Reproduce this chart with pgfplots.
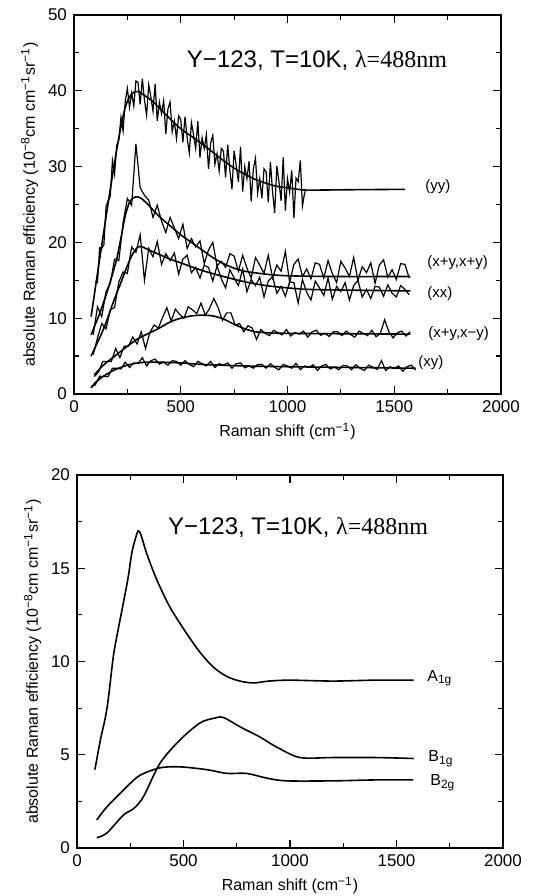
\documentclass[border=0pt]{standalone}
\usepackage{pgfplots}
\pgfplotsset{compat=1.18}
\usepackage{fontspec}
\setmainfont{Liberation Sans}
\newfontfamily\seriffont{Liberation Serif}
\pgfplotsset{myax/.style={
  scale only axis,
  xmin=0,xmax=2000,
  xtick={0,500,1000,1500,2000},
  minor x tick num=1,
  minor y tick num=1,
  tick align=inside,
  major tick length=4pt, minor tick length=2.5pt,
  axis line style={line width=0.8pt},
  every tick/.style={line width=0.6pt, black},
  tick label style={font=\fontsize{8.5}{10}\selectfont},
  label style={font=\fontsize{8}{10}\selectfont},
  /pgf/number format/assume math mode=true,
  /pgf/number format/1000 sep={},
  scaled ticks=false,
  xlabel={Raman shift (cm\textsuperscript{−1})},
  ylabel={absolute Raman efficiency (10\textsuperscript{−8}cm cm\textsuperscript{−1}sr\textsuperscript{−1})},
  xlabel style={yshift=2pt},
  ylabel style={yshift=-2pt},
}}
\begin{document}
\begin{tikzpicture}
\useasboundingbox (0,0) rectangle (279.5pt,448pt);
% ---------------- top panel
\begin{axis}[myax, at={(37pt,251pt)}, anchor=south west,
  width=213.5pt, height=189.5pt, ymin=0, ymax=50, ytick={0,10,20,30,40,50}]
% (yy) data
\addplot[black, line width=0.6pt] coordinates {
(100,14.9)(110,14.7)(120,19.3)(130,19.2)(140,19.7)(150,24.7)(160,25.5)(170,26.1)(180,30.8)(190,29.0)
(200,32.8)(210,33.5)(220,36.5)(230,34.7)(240,38.6)(250,40.3)(260,37.8)(270,39.7)(280,38.0)(290,41.3)
(300,41.1)(310,38.2)(320,41.6)(330,38.8)(340,36.8)(350,40.8)(360,39.2)(370,37.3)(380,40.9)(390,36.0)
(400,38.5)(410,37.0)(420,38.7)(430,34.3)(440,37.6)(450,38.5)(460,34.6)(470,36.0)(480,33.7)(490,36.7)
(500,36.2)(510,33.2)(520,36.6)(530,33.8)(540,31.8)(550,35.8)(560,34.2)(570,32.4)(580,36.0)(590,31.2)
(600,33.8)(610,32.4)(620,34.2)(630,29.7)(640,33.1)(650,34.1)(660,30.3)(670,31.7)(680,29.4)(690,32.4)
(700,32.0)(710,28.6)(720,32.9)(730,29.5)(740,27.0)(750,32.1)(760,30.1)(770,28.0)(780,32.6)(790,26.7)
(800,30.0)(810,28.4)(820,30.7)(830,25.4)(840,29.7)(850,31.1)(860,26.5)(870,28.4)(880,25.8)(890,29.7)
(900,29.3)(910,25.3)(920,30.6)(930,26.7)(940,23.9)(950,30.1)(960,28.0)(970,25.5)(980,31.2)(990,24.2)
(1000,28.4)(1010,26.6)(1020,29.5)(1030,23.2)(1040,28.5)(1050,28.0)(1060,30.8)(1070,24.8)(1080,26.5)(1085,26.9)
};
% (yy) fit
\addplot[black, line width=0.8pt, smooth] coordinates {
(80,10.2)(100,14.0)(120,17.8)(140,21.5)(160,25.2)(180,28.8)(200,32.2)(220,35.3)(240,37.8)(260,39.2)
(280,39.8)(300,39.9)(320,39.6)(340,39.2)(360,38.8)(380,38.3)(400,37.7)(450,36.3)(500,35.0)(550,34.0)
(600,33.0)(650,31.9)(700,30.8)(750,29.8)(800,29.0)(850,28.3)(900,27.8)(950,27.4)(1000,27.2)(1050,27.0)
(1100,26.9)(1300,26.95)(1550,27.0)
};
% (x+y,x+y) data
\addplot[black, line width=0.6pt] coordinates {
(90,7.8)(110,11.5)(130,10.2)(150,13.5)(170,14.6)(190,17.8)(210,17.6)(230,22.6)(250,25.8)(270,24.9)
(290,33.0)(310,27.2)(330,26.2)(350,25.6)(370,23.3)(390,24.9)(410,22.8)(430,21.3)(450,23.3)(470,21.9)
(490,20.5)(510,22.4)(530,19.2)(550,20.5)(570,19.4)(590,20.2)(610,17.2)(630,19.0)(650,20.0)(670,16.9)
(690,17.5)(710,16.7)(730,18.5)(750,18.2)(770,16.2)(790,18.3)(810,16.6)(830,15.3)(850,18.0)(870,17.0)
(890,15.9)(910,18.3)(930,15.3)(950,17.0)(970,16.2)(990,18.8)(1010,14.7)(1030,17.1)(1050,17.8)(1070,15.5)
(1090,16.5)(1110,15.2)(1130,17.3)(1150,17.1)(1170,15.3)(1190,17.6)(1210,15.9)(1230,14.7)(1250,17.5)(1270,16.6)
(1290,15.5)(1310,18.0)(1330,15.0)(1350,16.8)(1370,16.0)(1390,17.3)(1410,14.6)(1430,17.0)(1450,17.7)(1470,15.4)
(1490,16.4)(1510,15.1)(1530,17.2)(1550,17.1)(1570,15.3)
};
% (x+y,x+y) fit
\addplot[black, line width=0.8pt, smooth] coordinates {
(80,7.8)(100,9.2)(120,10.6)(140,12.2)(160,13.9)(180,15.8)(200,17.8)(220,20.6)(240,23.5)(260,25.3)
(280,25.9)(300,26.0)(320,25.7)(350,24.9)(400,23.4)(450,22.2)(500,21.0)(550,20.0)(600,19.0)(650,18.0)
(700,17.2)(750,16.6)(800,16.2)(900,15.8)(1000,15.6)(1200,15.5)(1575,15.5)
};
% (xx) data
\addplot[black, line width=0.6pt] coordinates {
(90,5.2)(110,7.4)(130,9.3)(150,8.6)(170,11.1)(190,11.4)(210,14.8)(230,16.1)(250,15.9)(270,19.4)
(290,18.7)(310,21.0)(330,15.0)(350,19.2)(370,18.1)(390,20.1)(410,17.1)(430,18.5)(450,17.6)(470,18.6)
(490,15.8)(510,17.8)(530,18.3)(550,16.0)(570,16.7)(590,15.3)(610,17.0)(630,16.7)(650,14.9)(670,16.9)
(690,15.2)(710,14.0)(730,16.4)(750,15.3)(770,14.3)(790,16.5)(810,13.5)(830,15.1)(850,14.3)(870,15.4)
(890,12.8)(910,14.9)(930,15.5)(950,13.3)(970,14.2)(990,12.9)(1010,14.8)(1030,14.7)(1050,12.0)(1070,15.1)
(1090,13.4)(1110,12.4)(1130,14.9)(1150,14.0)(1170,13.0)(1190,15.3)(1210,12.5)(1230,14.2)(1250,13.5)(1270,14.7)
(1290,12.4)(1310,14.3)(1330,15.0)(1350,12.8)(1370,13.8)(1390,12.6)(1410,14.2)(1430,14.1)(1450,12.9)(1470,14.4)
(1490,13.3)(1510,12.8)(1530,14.3)(1550,13.8)(1570,13.1)
};
% (xx) fit
\addplot[black, line width=0.8pt, smooth] coordinates {
(80,5.0)(100,6.2)(120,7.4)(140,8.7)(160,10.2)(180,11.8)(200,13.3)(220,14.7)(240,16.2)(260,17.6)
(280,18.7)(300,19.4)(320,19.4)(350,19.0)(400,18.4)(450,17.8)(500,17.3)(600,16.3)(700,15.5)(800,14.8)
(900,14.3)(1000,14.0)(1100,13.8)(1300,13.7)(1575,13.6)
};
% (x+y,x-y) data
\addplot[black, line width=0.6pt] coordinates {
(95,2.3)(115,2.9)(135,4.3)(155,4.3)(175,4.3)(195,6.0)(215,4.8)(235,6.3)(255,6.3)(275,7.5)
(295,6.6)(315,8.2)(335,6.0)(355,8.1)(375,9.1)(395,8.7)(415,10.1)(435,11.4)(455,9.6)(475,11.2)
(495,10.5)(515,10.0)(535,11.5)(555,11.1)(575,10.6)(595,12.0)(615,10.4)(635,11.3)(655,12.6)(675,11.4)
(695,9.7)(715,10.7)(735,10.7)(755,9.1)(775,9.3)(795,8.2)(815,9.0)(835,8.7)(855,7.2)(875,8.5)
(895,8.0)(915,7.7)(935,8.4)(955,8.1)(975,7.8)(995,8.5)(1015,7.65)(1035,8.1)(1055,7.9)(1075,8.3)
(1095,7.5)(1115,8.2)(1135,8.4)(1155,7.75)(1175,8.0)(1195,7.6)(1215,8.2)(1235,8.2)(1255,7.7)(1275,8.3)
(1295,7.85)(1315,7.5)(1335,8.3)(1355,8.0)(1375,7.7)(1395,8.4)(1415,7.55)(1435,8.0)(1455,9.8)(1475,8.2)
(1495,7.4)(1515,8.1)(1535,8.3)(1555,7.65)(1575,8.2)
};
% (x+y,x-y) fit
\addplot[black, line width=0.8pt, smooth] coordinates {
(95,2.5)(120,3.3)(150,4.1)(200,5.2)(250,6.3)(300,7.3)(350,8.0)(400,8.7)(450,9.5)(500,10.0)
(550,10.3)(600,10.4)(650,10.3)(700,9.9)(750,9.2)(800,8.6)(850,8.2)(900,8.1)(1000,8.0)(1575,7.9)
};
% (xy) data
\addplot[black, line width=0.6pt] coordinates {
(80,1.0)(100,1.2)(120,2.35)(140,2.3)(160,2.3)(180,3.4)(200,3.4)(220,3.3)(240,4.2)(260,3.5)
(280,4.1)(300,4.0)(320,4.8)(340,3.7)(360,4.4)(380,4.6)(400,3.95)(420,4.2)(440,3.8)(460,4.4)
(480,4.3)(500,3.8)(520,4.4)(540,3.9)(560,3.6)(580,4.3)(600,4.0)(620,3.7)(640,4.3)(660,3.5)
(680,4.0)(700,3.8)(720,4.1)(740,3.4)(760,4.0)(780,4.1)(800,3.45)(820,3.7)(840,3.4)(860,3.9)
(880,3.9)(900,3.4)(920,4.0)(940,3.5)(960,3.2)(980,3.9)(1000,3.7)(1020,3.4)(1040,4.05)(1060,3.2)
(1080,3.7)(1100,3.5)(1120,3.85)(1140,3.1)(1160,3.7)(1180,3.9)(1200,3.3)(1220,3.55)(1240,3.2)(1260,3.76)
(1280,3.7)(1300,3.2)(1320,3.85)(1340,3.4)(1360,3.1)(1380,3.8)(1400,3.55)(1420,3.25)(1440,4.4)(1460,3.1)
(1480,3.6)(1500,3.35)(1520,3.7)(1540,3.0)(1560,3.6)(1580,3.8)(1600,3.15)
};
% (xy) fit
\addplot[black, line width=0.8pt, smooth] coordinates {
(80,0.8)(100,1.5)(130,2.2)(170,2.9)(200,3.3)(250,3.8)(300,4.1)(350,4.2)(400,4.2)(500,4.1)
(600,3.9)(800,3.7)(1000,3.6)(1300,3.5)(1600,3.4)
};
\node[anchor=center, font=\fontsize{12}{14}\selectfont] at (axis cs:1138,44) {Y−123, T=10K, {\seriffont λ=488nm}};
\begin{scope}[every node/.style={anchor=west, font=\fontsize{7.5}{9}\selectfont, inner sep=0pt}]
\node at (axis cs:1644,27.3) {(yy)};
\node at (axis cs:1653,17.3) {(x+y,x+y)};
\node at (axis cs:1653,13.3) {(xx)};
\node at (axis cs:1658,8.0) {(x+y,x−y)};
\node at (axis cs:1611,4.1) {(xy)};
\end{scope}
\end{axis}
% ---------------- bottom panel
\begin{axis}[myax, at={(38.5pt,24pt)}, anchor=south west,
  width=213pt, height=186.5pt, ymin=0, ymax=20, ytick={0,5,10,15,20}]
% A1g
\addplot[black, line width=0.8pt, smooth] coordinates {
(84,4.2)(110,5.8)(141,7.5)(171,10.3)(193,11.7)(217,13.1)(240,14.5)(257,15.8)(272,16.5)(287,17.0)
(300,16.8)(327,15.8)(374,14.4)(437,12.9)(515,11.5)(577,10.5)(640,9.7)(703,9.2)(765,8.95)(828,8.85)
(900,8.95)(1000,9.0)(1200,8.95)(1400,9.0)(1580,9.0)
};
% B1g
\addplot[black, line width=0.8pt, smooth] coordinates {
(93,0.55)(140,0.8)(218,1.77)(265,2.1)(312,2.75)(390,4.55)(484,5.8)(577,6.7)(640,6.95)(687,7.0)
(765,6.5)(859,5.95)(939,5.4)(1047,4.85)(1200,4.85)(1400,4.85)(1580,4.8)
};
% B2g
\addplot[black, line width=0.8pt, smooth] coordinates {
(93,1.5)(140,2.2)(235,3.3)(296,3.9)(390,4.3)(484,4.35)(610,4.2)(703,4.0)(796,4.0)(890,3.75)
(984,3.6)(1202,3.6)(1400,3.65)(1578,3.65)
};
\node[anchor=center, font=\fontsize{12}{14}\selectfont] at (axis cs:1038,17.2) {Y−123, T=10K, {\seriffont λ=488nm}};
\begin{scope}[every node/.style={anchor=west, font=\fontsize{8}{10}\selectfont, inner sep=0pt}]
\node at (axis cs:1643,9.1) {A\textsubscript{1g}};
\node at (axis cs:1648,4.8) {B\textsubscript{1g}};
\node at (axis cs:1657,3.5) {B\textsubscript{2g}};
\end{scope}
\end{axis}
\end{tikzpicture}
\end{document}
